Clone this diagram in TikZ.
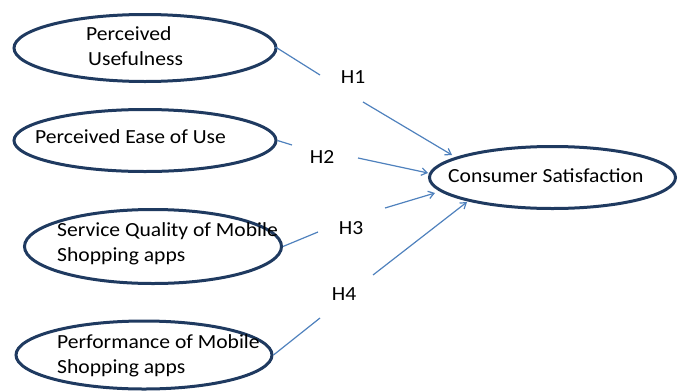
\documentclass[tikz,border=0pt]{standalone}
\usepackage{fontspec}
\setmainfont{Carlito}[FakeStretch=1.08]
\usetikzlibrary{shapes.geometric,arrows.meta}
\definecolor{navy}{HTML}{1F3A60}
\definecolor{linkblue}{HTML}{4F81BD}
\tikzset{
  construct/.style={ellipse, draw=navy, line width=3pt, inner sep=0pt},
  lbl/.style={anchor=base west, inner sep=0pt, font=\fontsize{20}{25}\selectfont, align=left},
  hyp/.style={inner sep=0pt, font=\fontsize{20}{25}\selectfont},
  link/.style={draw=linkblue, line width=1.2pt},
  arr/.style={link, -{Straight Barb[length=5.5pt,width=7.5pt]}},
}
\begin{document}
\begin{tikzpicture}[x=1pt,y=-1pt]
\useasboundingbox (0,0) rectangle (679,391);
% ellipses
\node[construct, minimum width=262pt, minimum height=67pt] (pu) at (145,48) {};
\node[construct, minimum width=262pt, minimum height=62pt] (peou) at (145,140.5) {};
\node[construct, minimum width=257pt, minimum height=74pt] (sq) at (153,246.5) {};
\node[construct, minimum width=256pt, minimum height=68pt] (perf) at (144,355) {};
\node[construct, minimum width=246pt, minimum height=62pt] (cs) at (552.5,177.5) {};
% texts (base anchor = baseline of the last line)
\node[lbl] (tpu) at (86,65) {Perceived\\\hspace*{2pt}Usefulness};
\node[lbl] (tpeou) at (35,143) {Perceived Ease of Use};
\node[lbl] (tsq) at (57,261) {Service Quality of Mobile\\Shopping apps};
\node[lbl] (tperf) at (57,373) {Performance of Mobile\\Shopping apps};
\node[lbl] (tcs) at (448,182) {Consumer Satisfaction};
% hypothesis labels
\node[hyp] (h1) at (353,77) {H1};
\node[hyp] (h2) at (322,157) {H2};
\node[hyp] (h3) at (351,228) {H3};
\node[hyp] (h4) at (344,294) {H4};
% connector break points
\coordinate (a1) at (320,75);
\coordinate (b1) at (363,102);
\coordinate (a2) at (292,145);
\coordinate (b2) at (358,158);
\coordinate (a3) at (318,232);
\coordinate (b3) at (385,208);
\coordinate (a4) at (320,318);
\coordinate (b4) at (373,275);
% connector ends on Consumer Satisfaction
\coordinate (e1) at (452,155);
\coordinate (e2) at (428,173);
\coordinate (e3) at (435,193);
\coordinate (e4) at (467,202);
% connectors
\draw[link] (pu.east) ++(-2,-1) coordinate (s1) (s1) -- (a1);
\draw[arr] (b1) -- (e1);
\draw[link] (peou.east) -- (a2);
\draw[arr] (b2) -- (e2);
\draw[link] (sq.east) -- (a3);
\draw[arr] (b3) -- (e3);
\draw[link] (perf.east) -- (a4);
\draw[arr] (b4) -- (e4);
\end{tikzpicture}
\end{document}
